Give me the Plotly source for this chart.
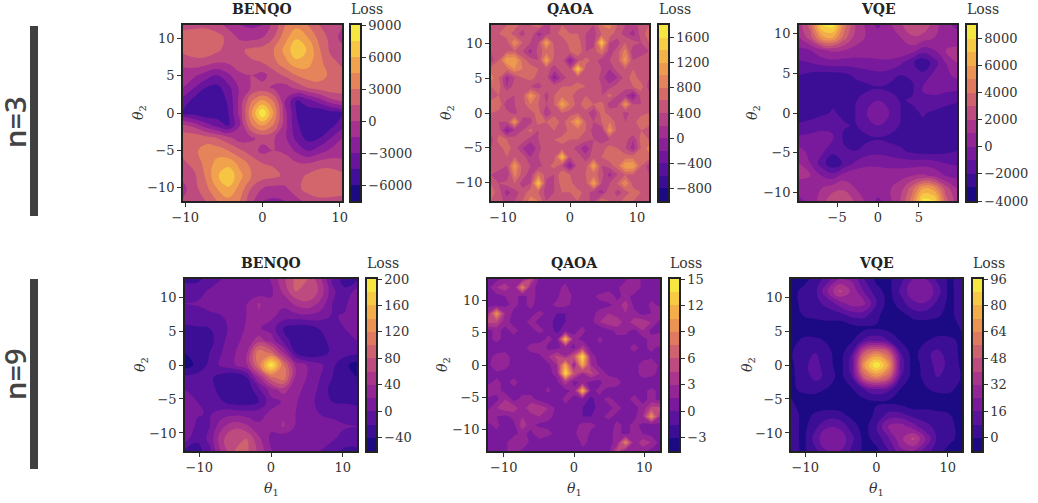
import numpy as np
import plotly.graph_objects as go

W, H = 1038, 503
TEXT = "#333333"
SERIF = "DejaVu Serif"

PALETTE = ["#1b0a84", "#420f9a", "#68149d", "#8a1f9a", "#a6318f", "#bd4b80",
           "#d2666c", "#e5845a", "#f1a24c", "#f6c544", "#f5e642"]

BENQO_3 = [
 [1,1,1,0.5,-0.5,-1.5,-1.8,-1.5,0.5,3,4,3,1.5,0.5,0.2],
 [2.2,2.6,2.8,2.2,1,-0.3,-0.5,0,1.5,4,5.8,4.5,2.5,1,-0.5],
 [2,2.5,2.6,1.8,0.8,1.2,1.9,2.2,3,5,7.2,5.8,3.2,1.2,0.5],
 [0.3,0.8,0.6,0,0.2,0.8,1.3,1.5,2.5,4,5.5,5,3.5,2,1.2],
 [-0.5,-1.2,-2.2,-3,-1.8,-0.3,0,-0.5,0.8,1.8,3,3.8,3.8,2.6,2],
 [-1.5,-3,-4.5,-5,-3.5,-1.2,0.1,0.5,-0.3,-0.8,0.5,1.5,2.2,2.6,2.6],
 [-3.5,-5,-5.6,-5.6,-4.2,-1,2.8,4.6,2.8,-1.5,-4.5,-3.5,-2.2,-0.5,0.3],
 [-4.5,-5.2,-5.8,-5.5,-4.5,-1,4.2,9,4.2,-1,-4.5,-5.5,-5.8,-5.2,-4.5],
 [0.3,-0.5,-2.2,-3.5,-4.5,-1.5,2.8,4.6,2.8,-1,-4.2,-5.6,-5.6,-5,-3.5],
 [2.6,2.6,2.2,1.5,0.5,-0.8,-0.3,0.5,0.1,-1.2,-3.5,-5,-4.5,-3,-1.5],
 [2,2.6,3.8,3.8,3,1.8,0.8,-0.5,0,-0.3,-1.8,-3,-2.2,-1.2,-0.5],
 [1.2,2,3.5,5,5.5,4,2.5,1.5,1.3,0.8,0.2,0,0.6,0.8,0.3],
 [0.5,1.2,3.2,5.8,7.2,5,3,2.2,1.9,1.2,0.8,1.8,2.6,2.5,2],
 [-0.5,1,2.5,4.5,5.8,4,1.5,0,-0.5,-0.3,1,2.2,2.8,2.6,2.2],
 [0.2,0.5,1.5,3,4,3,0.5,-1.5,-1.8,-1.5,-0.5,0.5,1,1,1],
]
VQE_3 = [
 [1.5,3.5,8,8.5,4.5,2,0.7,-0.3,0.8,1.8,3,2.8,1.5,0.3,-0.3],
 [1,2.5,5.5,6,3.5,1.5,0.9,0.8,1,1,1.8,1.6,1,1,0.5],
 [-0.3,0,0.8,1.2,1,0.7,0.6,0.7,0.8,0.9,0.5,-0.5,0,1,1.2],
 [-1.2,-1,-0.6,-0.4,-0.5,-0.5,-0.4,-0.3,-0.3,-0.8,-1.8,-2.8,-1.5,0,1],
 [-2,-2.3,-2.5,-2.5,-2.3,-1.8,-1.5,-1.3,-1.5,-2,-1.8,-1.7,-0.7,-0.3,0.3],
 [-2.6,-2.8,-2.9,-2.8,-2.7,-2.5,-2.3,-2.1,-2.3,-2.5,-2.2,-0.9,-0.6,-0.7,-0.8],
 [-3,-2.8,-2.4,-2.2,-2.4,-2.1,-1.35,-1,-1.35,-2.1,-1.9,-1.2,-1.3,-1.5,-1.7],
 [-3,-2.6,-2.2,-1.9,-2.2,-2,-1,-0.4,-1,-2,-2.2,-1.9,-2.2,-2.6,-3],
 [-1.7,-1.5,-1.3,-1.2,-1.9,-2.1,-1.35,-1,-1.35,-2.1,-2.4,-2.2,-2.4,-2.8,-3],
 [-0.8,-0.7,-0.6,-0.9,-2.2,-2.5,-2.3,-2.1,-2.3,-2.5,-2.7,-2.8,-2.9,-2.8,-2.6],
 [0.3,-0.3,-0.7,-1.7,-1.8,-2,-1.5,-1.3,-1.5,-1.8,-2.3,-2.5,-2.5,-2.3,-2],
 [1,0,-1.5,-2.8,-1.8,-0.8,-0.3,-0.3,-0.4,-0.5,-0.5,-0.4,-0.6,-1,-1.2],
 [1.2,1,0,-0.5,0.5,0.9,0.8,0.7,0.6,0.7,1,1.2,0.8,0,-0.3],
 [0.5,1,1,1.6,1.8,1,1,0.8,0.9,1.5,3.5,6,5.5,2.5,1],
 [-0.3,0.3,1.5,2.8,3,1.8,0.8,-0.3,0.7,2,4.5,8.5,8,3.5,1.5],
]
QAOA_3 = [
 [5,4,6,7,5,6,8,3,5,6,6,5,6,4,8,9,6,4,3,5,6],
 [4,6,7,5,3,6,1,3,5,7,6,6,4,3,6,7,5,3,1,5,7],
 [6,4,5,10,6,4,4,12,5,4,7,7,4,3,15,4,3,6,5,4,6],
 [4,5,6,6,4,1,5,7,6,5,6,8,4,5,8,3,5,9,2,3,4],
 [3,6,12,12,7,5,4,12,5,5,-1,4,7,5,3,4,5,11,4,5,6],
 [7,8,7,10,8,7,6,5,3,5,4,15,5,6,4,2,5,6,6,4,6],
 [9,6,1,4,6,7,5,5,-1,3,5,5,4,6,3,0,2,5,7,5,4],
 [6,7,2,5,5,4,3,5,5,6,6,7,6,5,4,3,5,5,6,7,3],
 [5,6,6,4,5,11,7,3,6,7,7,4,6,5,4,7,4,2,-1,5,5],
 [7,8,2,4,5,8,6,4,6,12,8,5,8,6,7,3,3,11,4,4,6],
 [6,5,5,3,6,5,7,2,5,6,5,6,5,2,7,5,6,3,5,5,6],
 [6,4,4,11,2,3,7,6,8,5,8,12,6,4,6,8,5,4,5,8,7],
 [5,5,-1,2,4,7,4,5,6,4,7,7,6,3,2,11,5,4,6,6,5],
 [3,7,6,5,5,3,4,5,6,7,6,6,5,4,3,4,5,5,2,7,6],
 [4,5,7,5,2,0,3,6,4,5,5,3,0,5,5,7,6,4,1,6,9],
 [6,4,6,6,5,2,4,6,5,14,4,5,3,5,6,7,8,7,7,8,7],
 [6,5,4,11,5,4,3,5,7,4,-1,5,5,12,4,5,7,12,12,6,3],
 [4,3,2,9,5,3,8,5,4,8,6,5,6,7,5,1,4,6,6,5,4],
 [6,4,5,6,3,4,15,3,4,7,7,4,5,12,4,4,6,10,5,4,6],
 [7,5,1,3,5,7,6,3,4,6,6,7,5,3,1,6,3,5,7,6,4],
 [6,5,3,4,6,9,8,4,6,5,6,6,5,3,8,6,5,7,6,4,5],
]
BENQO_9 = [
 [-25,-25,-12,0,2,0,5,22,55,85,80,45,-5,-30,-25],
 [-10,-8,3,12,15,10,5,15,45,80,80,55,5,-15,8],
 [0,2,8,15,18,18,42,25,25,45,55,35,0,-5,18],
 [-8,-8,-5,0,8,20,38,25,12,12,15,10,-2,2,8],
 [-25,-22,-20,-8,10,22,22,12,-20,-30,-30,-18,-5,0,3],
 [-30,-32,-28,-5,15,25,50,30,-5,-35,-40,-30,-10,-3,0],
 [-40,-35,-20,0,18,35,115,95,40,-20,-40,-30,-15,-12,-15],
 [-50,-35,-15,5,18,35,105,195,105,35,18,5,-15,-35,-50],
 [-15,-12,-15,-30,-40,-20,40,95,115,35,18,0,-20,-35,-40],
 [0,-3,-10,-30,-40,-35,-5,30,50,25,15,-5,-28,-32,-30],
 [3,0,-5,-18,-30,-30,-20,12,22,22,10,-8,-20,-22,-25],
 [8,2,-2,10,15,12,12,25,38,20,8,0,-5,-8,-8],
 [18,-5,0,35,55,45,25,25,42,18,18,15,8,2,0],
 [8,-15,5,55,80,80,45,15,5,10,15,12,3,-8,-10],
 [-25,-30,-5,45,80,85,55,22,5,0,2,0,-12,-25,-25],
]
QAOA_9 = [
 [0.5,1,2,3,2,5,1,0,1,1,0.5,0,0.5,1,0,0.5,1,3,1,0.5,1],
 [1,3,4,2,9,2,1,1,1,2,0,1,1,0,0.5,1,3,3,1,1,0],
 [1,1,1.5,2,1,2,1,0,1,3,1,1,1,2,3,1,2,1,1,1,1],
 [1,0.5,1,2,1,2,0.5,1,2,2,1,0.5,0,1,1,2,4,1,0.5,2,1],
 [3,10,3,1,0.5,1,2,1,0,0,1,1,1,2,3,2,3,2,1,1.5,3],
 [5,5,2,1,1,2,1,0.5,-0.5,0,1,1,1,3,4,4.5,2,4,4,3,1],
 [1,2,1,2,1,1,2,1,-0.5,1,1,2,0.5,0,1,2,2,1,3,1,1],
 [1,2,1,1,0.5,1,0.5,2,1,12,2,1,0,2,0.5,1,1,1,1,2,3],
 [1,0.5,1,0.5,1,2,3,1,1,2,1,4,1,1,1,0,1,2,1,2,1],
 [1,2,2,1,0.5,1,1,3,5,3,6,14,2,1,0.5,1,0,1,1,1,0.5],
 [1,3,2,1,0,1,1,1,3,11,2,11,3,1,1,1,0,1,2,3,1],
 [0.5,1,1,1,0,1,0.5,1,2,14,6,3,5,3,1,1,0.5,1,2,2,1],
 [1,2,1,2,1,0,1,1,1,4,1,2,1,1,3,2,1,0.5,1,0.5,1],
 [3,2,1,1,1,1,0.5,2,0,1,2,12,1,2,0.5,1,0.5,1,1,2,1],
 [1,1,3,1,2,2,1,0,0.5,2,1,1,-0.5,1,2,1,1,2,1,2,1],
 [1,3,4,4,2,4.5,4,3,1,1,1,0,-0.5,0.5,1,2,1,1,2,5,5],
 [3,1.5,1,2,3,2,3,2,1,1,1,0,0,1,2,1,0.5,1,3,10,3],
 [1,2,0.5,1,4,2,1,1,0,0.5,1,2,2,1,0.5,2,1,2,1,0.5,1],
 [1,1,1,1,2,1,3,2,1,1,1,3,1,0,1,2,1,2,1.5,1,1],
 [0,1,1,3,3,1,0.5,0,1,1,0,2,1,1,1,2,9,2,4,3,1],
 [1,0.5,1,3,1,0.5,0,1,0.5,0,0.5,1,1,0,1,5,2,3,2,1,0.5],
]
VQE_9 = [
 [-5,-3,3,12,25,22,8,-2,-2,6,16,16,6,-2,5],
 [-3,2,6,24,42,30,15,3,-3,10,22,24,12,-3,6],
 [-3,2,6,10,20,28,26,8,-4,4,14,15,6,-3,6],
 [-3,0,2,4,4,10,10,2,-5,-3,2,3,1,-3,5],
 [-5,-6,-6,-6,-6,-4,-2,-1,-3,-5,-6,-6,-6,-5,1],
 [-4,2,2,-1,-5,-1,10,14,8,-1,-5,-1,3,2,-2],
 [-1,7,8,2,-4,8,50,62,50,8,-4,6,10,4,-2],
 [-2,6,11,3,-4,12,70,96,70,12,-4,3,11,6,-2],
 [-2,4,10,6,-4,8,50,62,50,8,-4,2,8,7,-1],
 [-2,2,3,-1,-5,-1,8,14,10,-1,-5,-1,2,2,-4],
 [1,-5,-6,-6,-6,-5,-3,-1,-2,-4,-6,-6,-6,-6,-5],
 [5,-3,1,3,2,-3,-5,2,10,10,4,4,2,0,-3],
 [6,-3,6,15,14,4,-4,8,26,28,20,10,6,2,-3],
 [6,-3,12,24,22,10,-3,3,15,30,42,24,6,2,-3],
 [5,-2,6,16,16,6,-2,-2,8,22,25,12,3,-3,-5],
]

TITLES = ["BENQO", "QAOA", "VQE"]
ROW_LABELS = ["n=3", "n=9"]

PANELS = [
 (BENQO_3, 1000, 10.3, 11.75, -7500, 9000, 1500, [-10,0,10], [-10,-5,0,5,10], [-6000,-3000,0,3000,6000,9000]),
 (QAOA_3, 100, 11.8, 12.65, -1000, 1800, 200, [-10,0,10], [-10,-5,0,5,10], [-800,-400,0,400,800,1200,1600]),
 (VQE_3, 1000, 9.65, 11.05, -4000, 9000, 1000, [-5,0,5], [-10,-5,0,5,10], [-4000,-2000,0,2000,4000,6000,8000]),
 (BENQO_9, 1, 12, 12.65, -60, 200, 20, [-10,0,10], [-10,-5,0,5,10], [-40,0,40,80,120,160,200]),
 (QAOA_9, 1, 12.25, 13.3, -4.5, 15, 1.5, [-10,0,10], [-10,-5,0,5,10], [-3,0,3,6,9,12,15]),
 (VQE_9, 1, 12, 12.65, -8, 96, 8, [-10,0,10], [-10,-5,0,5,10], [0,16,32,48,64,80,96]),
]
BOXES = [
 (183, 342, 25, 201, 351, 262, 139),
 (491, 649, 25, 201, 659, 570, 447),
 (799, 957, 25, 201, 967, 878, 753),
 (185, 357, 279, 451, 367, 271, 141),
 (488, 660, 279, 451, 670, 574, 443),
 (791, 962, 279, 451, 973, 876, 748),
]

def px(v):
    return v / W

def py(v):
    return 1 - v / H

def band_color(t):
    pos = t * (len(PALETTE) - 1)
    a = min(int(pos), len(PALETTE) - 2)
    f = pos - a
    ca = [int(PALETTE[a][k:k + 2], 16) for k in (1, 3, 5)]
    cb = [int(PALETTE[a + 1][k:k + 2], 16) for k in (1, 3, 5)]
    return "rgb(%d,%d,%d)" % tuple(round(p + (q - p) * f) for p, q in zip(ca, cb))

def contour_scale(bands):
    scale = []
    edges = [0.0] + [(i + 0.75) / bands for i in range(bands - 1)] + [1.0]
    for i in range(bands):
        c = band_color(i / (bands - 1))
        scale.append([edges[i], c])
        scale.append([edges[i + 1], c])
    return scale

def bar_scale(bands):
    scale = []
    for i in range(bands):
        c = band_color(i / (bands - 1))
        scale.append([i / bands, c])
        scale.append([(i + 1) / bands, c])
    return scale

fig = go.Figure()
ann = []
AXIS = dict(showgrid=False, zeroline=False, mirror=True, showline=True, linecolor="#222222",
            linewidth=1.5, ticks="outside", ticklen=4, tickwidth=1, tickcolor="#333333",
            tickfont=dict(family=SERIF, size=13, color=TEXT))
for i, (panel, box) in enumerate(zip(PANELS, BOXES)):
    z, scale, xr, yr, lo, hi, step, xt, yt, cbt = panel
    left, right, top, bottom, cbl, tc, ylx = box
    n = "" if i == 0 else str(i + 1)
    m = str(i + 7)
    arr = np.array(z, dtype=float)[::-1] * scale
    x = np.linspace(-xr, xr, arr.shape[1])
    y = np.linspace(-yr, yr, arr.shape[0])
    smooth = 0 if i in (1, 4) else 1.3
    bands = int(round((hi - lo) / step))
    fig.add_trace(go.Contour(
        x=x, y=y, z=arr, xaxis="x" + n, yaxis="y" + n,
        autocontour=False, showscale=False, zmin=lo, zmax=hi,
        contours=dict(start=lo, end=hi, size=step, coloring="fill", showlines=False),
        line=dict(width=0, smoothing=smooth),
        colorscale=contour_scale(bands),
        hoverinfo="skip",
    ))
    centres = [lo + (k + 0.5) * step for k in range(bands)]
    fig.add_trace(go.Heatmap(
        x=[0], y=centres, z=[[c] for c in centres], xaxis="x" + m, yaxis="y" + m,
        zmin=lo, zmax=hi, colorscale=bar_scale(bands), showscale=False, hoverinfo="skip",
    ))
    fig.update_layout(**{
        "xaxis" + n: dict(AXIS, domain=[px(left), px(right)], range=[-xr, xr], tickvals=xt,
                          anchor="y" + n),
        "yaxis" + n: dict(AXIS, domain=[py(bottom), py(top)], range=[-yr, yr], tickvals=yt,
                          anchor="x" + n),
        "xaxis" + m: dict(AXIS, domain=[px(cbl), px(cbl + 9)], range=[-0.5, 0.5], ticks="", showticklabels=False,
                          anchor="y" + m),
        "yaxis" + m: dict(AXIS, domain=[py(bottom), py(top)], range=[lo, hi], tickvals=cbt, side="right",
                          anchor="x" + m),
    })
    head_y = top - 16
    ann.append(dict(text=f"<b>{TITLES[i % 3]}</b>", x=px(tc), y=py(head_y), font=dict(family=SERIF, size=14, color="#222222")))
    ann.append(dict(text="Loss", x=px(cbl + 16), y=py(head_y), font=dict(family=SERIF, size=14, color=TEXT)))
    ann.append(dict(text="<i>θ</i><sub>2</sub>", x=px(ylx), y=py((top + bottom) / 2), textangle=-90,
                    font=dict(family=SERIF, size=14, color=TEXT)))
    if i >= 3:
        ann.append(dict(text="<i>θ</i><sub>1</sub>", x=px((left + right) / 2), y=py(489),
                        font=dict(family=SERIF, size=14, color=TEXT)))

shapes = []
for (t, b), label, c in zip([(26, 216), (279, 469)], ROW_LABELS, [122, 374]):
    shapes.append(dict(type="rect", xref="paper", yref="paper", x0=px(30), x1=px(38), y0=py(b), y1=py(t),
                       fillcolor="#404040", line_width=0))
    ann.append(dict(text=label, x=px(14), y=py(c), textangle=-90,
                    font=dict(family="Open Sans", size=29, color="#444444", weight=600)))

for a in ann:
    a.update(xref="paper", yref="paper", showarrow=False, xanchor="center", yanchor="middle")

fig.update_layout(width=W, height=H, margin=dict(l=0, r=0, t=0, b=0, autoexpand=False),
                  paper_bgcolor="white", plot_bgcolor="white", annotations=ann, shapes=shapes,
                  showlegend=False)
fig.write_html("out.html", config={"displayModeBar": False},
               post_script="document.body.style.margin='0';document.documentElement.style.overflow='hidden';")
